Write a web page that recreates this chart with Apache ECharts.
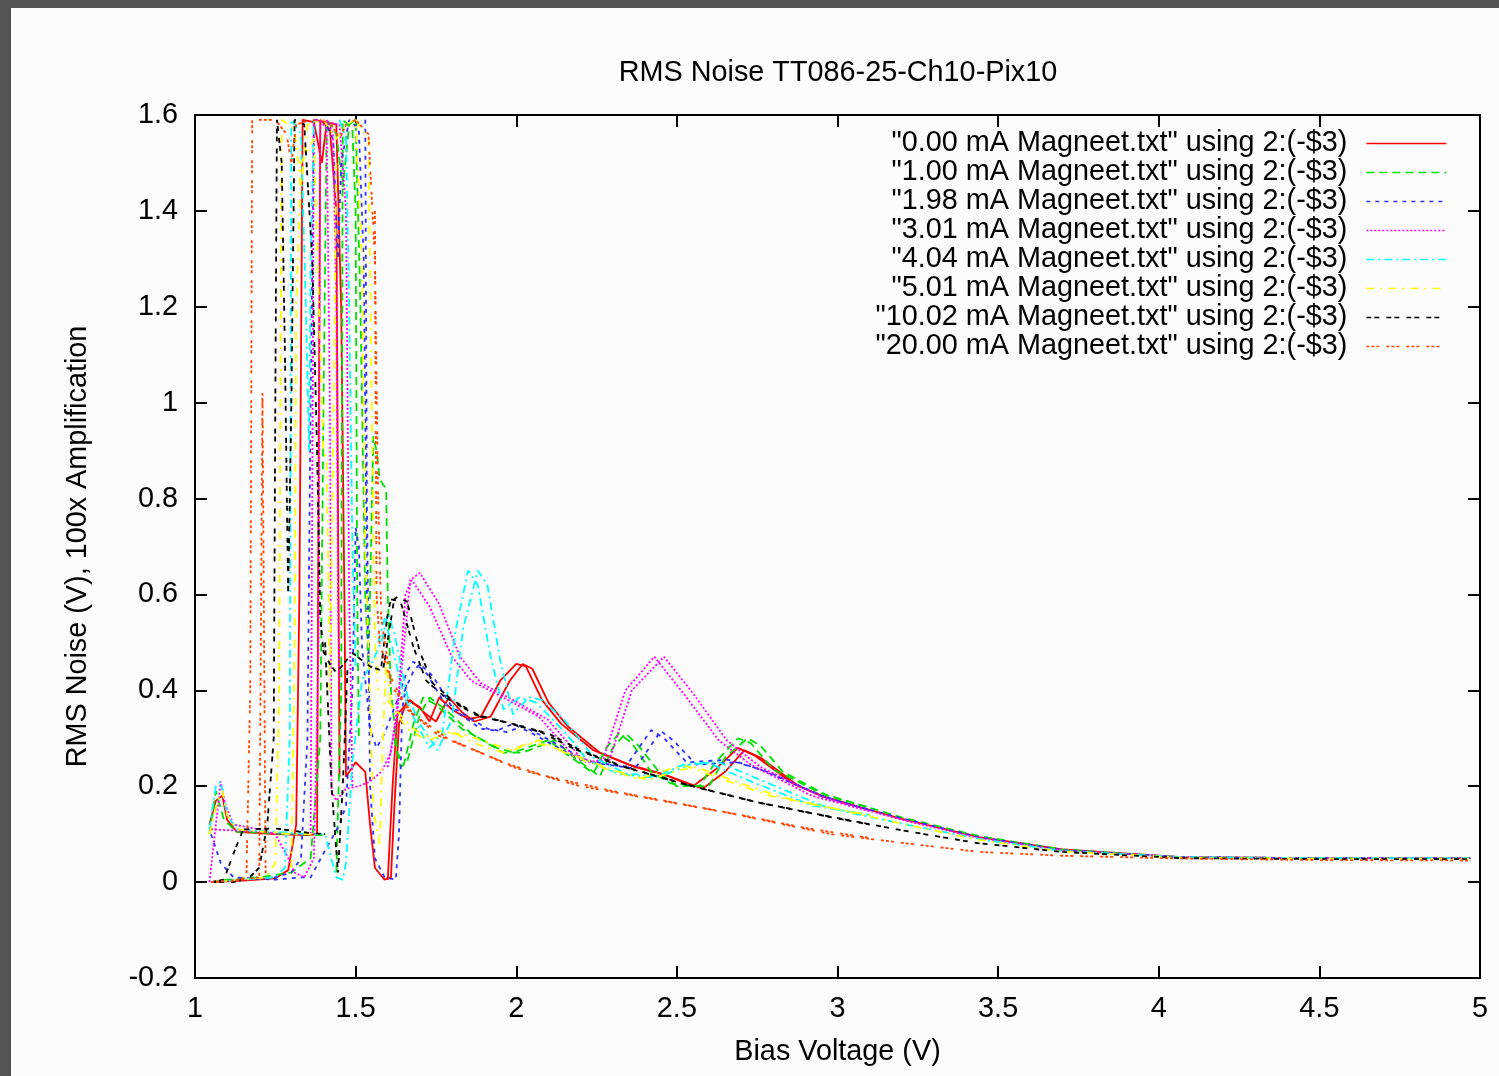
<!DOCTYPE html>
<html>
<head>
<meta charset="utf-8">
<title>RMS Noise TT086-25-Ch10-Pix10</title>
<script src="https://cdn.jsdelivr.net/npm/echarts@6/dist/echarts.min.js"></script>
<style>
  html, body { margin: 0; padding: 0; background: #545454; }
  #chart { position: absolute; left: 11px; top: 8px; width: 1488px; height: 1068px; background: #fcfcfc; }
</style>
</head>
<body>
<div id="chart"></div>
<script>
// magnet currents, one data file each
const currents = ['0.00', '1.00', '1.98', '3.01', '4.04', '5.01', '10.02', '20.00'];

// [bias voltage (V), rms noise (V)] per sweep
const mA000a = [[1.05,0.0],[1.15,0.003],[1.25,0.008],[1.29,0.025],[1.315,0.12],[1.325,0.6],[1.335,1.59],[1.37,1.585],[1.395,1.5],[1.41,1.585],[1.44,1.58],[1.455,1.2],[1.465,0.6],[1.47,0.22],[1.5,0.25],[1.53,0.23],[1.545,0.12],[1.56,0.03],[1.59,0.005],[1.61,0.01],[1.62,0.15],[1.635,0.33],[1.66,0.38],[1.7,0.365],[1.73,0.335],[1.76,0.385],[1.8,0.36],[1.85,0.34],[1.89,0.345],[1.95,0.42],[2.0,0.455],[2.03,0.45],[2.08,0.38],[2.14,0.33],[2.24,0.275],[2.35,0.245],[2.45,0.227],[2.55,0.2],[2.62,0.235],[2.69,0.28],[2.74,0.265],[2.86,0.206],[2.95,0.18],[3.05,0.16],[3.2,0.132],[3.44,0.094],[3.7,0.068],[4.07,0.052],[4.5,0.05],[4.97,0.05]];
const mA000b = [[1.045,0.12],[1.065,0.17],[1.085,0.18],[1.1,0.13],[1.13,0.105],[1.25,0.1],[1.35,0.098],[1.38,0.1],[1.385,0.9],[1.39,1.59],[1.42,1.57],[1.44,1.4],[1.445,0.8],[1.45,0.22]];
const mA000c = [[1.6,0.005],[1.615,0.2],[1.63,0.35],[1.67,0.38],[1.72,0.35],[1.75,0.335],[1.79,0.385],[1.83,0.355],[1.87,0.335],[1.92,0.345],[1.98,0.42],[2.02,0.455],[2.05,0.445],[2.1,0.375],[2.16,0.325],[2.26,0.27],[2.37,0.24],[2.47,0.222],[2.58,0.195],[2.65,0.23],[2.71,0.275],[2.76,0.26],[2.88,0.2],[2.97,0.175],[3.1,0.15]];

const mA100a = [[1.05,0.0],[1.1,0.005],[1.2,0.01],[1.3,0.02],[1.36,0.05],[1.39,0.3],[1.4,1.0],[1.41,1.59],[1.44,1.56],[1.46,1.45],[1.48,1.58],[1.5,1.59],[1.515,1.2],[1.53,0.6],[1.54,0.45],[1.548,0.7],[1.555,0.93],[1.565,0.9],[1.575,0.84],[1.595,0.82],[1.6,0.6],[1.61,0.4],[1.63,0.27],[1.65,0.245],[1.68,0.33],[1.71,0.385],[1.75,0.37],[1.83,0.32],[1.94,0.28],[1.99,0.27],[2.1,0.296],[2.15,0.27],[2.24,0.227],[2.28,0.28],[2.32,0.31],[2.36,0.29],[2.42,0.23],[2.48,0.206],[2.57,0.2],[2.62,0.25],[2.69,0.3],[2.73,0.29],[2.8,0.235],[2.95,0.185],[3.05,0.165],[3.2,0.135],[3.44,0.096],[3.7,0.068],[4.07,0.052],[4.5,0.05],[4.97,0.05]];
const mA100b = [[1.045,0.1],[1.065,0.19],[1.09,0.13],[1.13,0.105],[1.3,0.1],[1.405,0.098]];
const mA100c = [[1.62,0.3],[1.64,0.24],[1.66,0.25],[1.7,0.35],[1.73,0.385],[1.78,0.36],[1.86,0.31],[1.96,0.27],[2.02,0.27],[2.12,0.296],[2.18,0.26],[2.26,0.22],[2.3,0.28],[2.34,0.31],[2.38,0.285],[2.45,0.225],[2.5,0.2],[2.6,0.2],[2.65,0.26],[2.72,0.3],[2.76,0.285],[2.83,0.23],[2.97,0.18],[3.1,0.155]];
const mA100d = [[1.44,0.02],[1.455,0.4],[1.46,1.59],[1.49,1.57],[1.5,1.4],[1.505,0.6],[1.51,0.3]];

const mA198a = [[1.05,0.0],[1.15,0.005],[1.25,0.01],[1.3,0.02],[1.33,0.05],[1.35,0.3],[1.36,1.0],[1.37,1.59],[1.4,1.59],[1.43,1.55],[1.445,1.3],[1.455,1.5],[1.48,1.59],[1.51,1.57],[1.525,1.3],[1.53,1.0],[1.535,0.6],[1.545,0.32],[1.565,0.28],[1.59,0.31],[1.63,0.38],[1.66,0.44],[1.68,0.46],[1.72,0.436],[1.78,0.37],[1.89,0.32],[1.94,0.316],[1.99,0.33],[2.05,0.31],[2.13,0.28],[2.2,0.255],[2.34,0.24],[2.42,0.317],[2.46,0.3],[2.53,0.25],[2.66,0.255],[2.76,0.235],[2.95,0.18],[3.05,0.16],[3.2,0.133],[3.44,0.094],[3.7,0.067],[4.07,0.052],[4.5,0.05],[4.97,0.05]];
const mA198b = [[1.05,0.1],[1.08,0.04],[1.12,0.01],[1.25,0.005],[1.33,0.01],[1.36,0.01],[1.4,0.06],[1.45,0.12],[1.47,0.16],[1.49,0.4],[1.5,0.74],[1.51,0.7],[1.52,0.49],[1.545,0.32]];
const mA198c = [[1.53,1.59],[1.535,0.8],[1.545,0.2],[1.56,0.05],[1.59,0.01],[1.625,0.005],[1.635,0.1],[1.645,0.36],[1.66,0.42]];
const mA198d = [[1.64,0.38],[1.68,0.44],[1.7,0.455],[1.74,0.43],[1.8,0.365],[1.91,0.32],[1.97,0.313],[2.02,0.325],[2.08,0.305],[2.16,0.275],[2.23,0.25],[2.37,0.237],[2.45,0.315],[2.49,0.295],[2.56,0.245],[2.69,0.25],[2.79,0.228],[2.97,0.175],[3.1,0.15]];

const mA301a = [[1.045,0.0],[1.065,0.12],[1.08,0.21],[1.095,0.16],[1.12,0.12],[1.2,0.11],[1.25,0.1],[1.29,0.05],[1.31,0.02],[1.34,0.01],[1.37,0.05],[1.385,0.5],[1.39,1.59],[1.41,1.57],[1.42,1.0],[1.425,0.19],[1.44,0.17],[1.47,0.195],[1.51,0.2],[1.545,0.21],[1.58,0.23],[1.61,0.27],[1.64,0.42],[1.67,0.63],[1.7,0.645],[1.76,0.58],[1.825,0.47],[1.89,0.415],[1.99,0.38],[2.1,0.338],[2.2,0.26],[2.24,0.25],[2.29,0.255],[2.36,0.4],[2.46,0.47],[2.55,0.394],[2.655,0.296],[2.76,0.24],[2.95,0.178],[3.05,0.158],[3.2,0.13],[3.44,0.092],[3.7,0.066],[4.07,0.052],[4.5,0.05],[4.97,0.05]];
const mA301b = [[1.05,0.11],[1.2,0.105],[1.3,0.1],[1.36,0.1],[1.365,0.8],[1.37,1.59],[1.45,1.58],[1.47,1.4],[1.48,0.6],[1.49,0.2]];
const mA301c = [[1.6,0.24],[1.63,0.35],[1.655,0.6],[1.675,0.63],[1.73,0.575],[1.8,0.47],[1.86,0.42],[1.96,0.385],[2.07,0.345],[2.17,0.27],[2.22,0.25],[2.27,0.255],[2.34,0.4],[2.43,0.47],[2.52,0.394],[2.63,0.296],[2.73,0.245],[2.92,0.18],[3.1,0.148]];
const mA301d = [[1.41,1.59],[1.43,1.56],[1.44,1.2],[1.445,0.6],[1.45,0.4]];

const mA404a = [[1.045,0.11],[1.065,0.2],[1.08,0.21],[1.1,0.14],[1.13,0.11],[1.25,0.105],[1.35,0.1],[1.405,0.1],[1.42,0.06],[1.44,0.01],[1.46,0.005],[1.47,0.04],[1.49,0.25],[1.52,0.42],[1.545,0.45],[1.58,0.5],[1.6,0.56],[1.62,0.52],[1.66,0.39],[1.7,0.33],[1.755,0.275],[1.8,0.34],[1.835,0.53],[1.88,0.65],[1.91,0.62],[1.95,0.463],[1.99,0.35],[2.04,0.386],[2.08,0.38],[2.15,0.338],[2.2,0.296],[2.24,0.26],[2.34,0.227],[2.45,0.22],[2.55,0.248],[2.63,0.25],[2.76,0.213],[2.95,0.16],[3.05,0.143],[3.2,0.122],[3.44,0.09],[3.7,0.065],[4.07,0.052],[4.5,0.05],[4.97,0.05]];
const mA404b = [[1.05,0.0],[1.15,0.005],[1.25,0.01],[1.28,0.03],[1.295,0.3],[1.3,1.59],[1.33,1.56],[1.345,1.2],[1.355,0.9],[1.36,1.3],[1.37,1.59]];
const mA404c = [[1.57,0.5],[1.59,0.55],[1.61,0.5],[1.65,0.39],[1.69,0.33],[1.73,0.28],[1.77,0.31],[1.81,0.52],[1.85,0.65],[1.88,0.62],[1.92,0.47],[1.96,0.36],[2.01,0.385],[2.06,0.375],[2.12,0.335],[2.18,0.29],[2.22,0.255],[2.32,0.225],[2.43,0.218],[2.52,0.245],[2.6,0.248],[2.73,0.21],[2.92,0.16],[3.1,0.14]];
const mA404d = [[1.45,1.59],[1.47,1.55],[1.48,1.2],[1.49,0.7],[1.5,0.45]];

const mA501a = [[1.05,0.0],[1.15,0.005],[1.22,0.01],[1.25,0.04],[1.262,0.4],[1.27,1.59],[1.31,1.57],[1.33,1.45],[1.35,1.58],[1.4,1.59],[1.44,1.55],[1.47,1.58],[1.5,1.59],[1.52,1.3],[1.53,0.7],[1.555,0.15],[1.575,0.08],[1.585,0.3],[1.595,0.46],[1.61,0.37],[1.68,0.32],[1.73,0.296],[1.78,0.31],[1.83,0.31],[1.89,0.296],[1.99,0.275],[2.07,0.296],[2.12,0.28],[2.2,0.26],[2.3,0.234],[2.41,0.213],[2.51,0.234],[2.56,0.24],[2.67,0.213],[2.82,0.178],[2.98,0.155],[3.2,0.122],[3.44,0.088],[3.7,0.064],[4.07,0.051],[4.5,0.049],[4.97,0.049]];
const mA501b = [[1.045,0.1],[1.07,0.17],[1.085,0.19],[1.1,0.14],[1.13,0.11],[1.3,0.1],[1.405,0.1]];
const mA501c = [[1.6,0.38],[1.66,0.32],[1.71,0.3],[1.76,0.315],[1.81,0.31],[1.87,0.29],[1.96,0.27],[2.04,0.29],[2.1,0.285],[2.18,0.262],[2.28,0.236],[2.38,0.215],[2.48,0.236],[2.53,0.242],[2.64,0.215],[2.79,0.18],[2.96,0.157],[3.1,0.14]];
const mA501d = [[1.3,0.03],[1.31,0.5],[1.315,1.2],[1.33,1.5],[1.37,1.55],[1.4,0.9],[1.41,0.88],[1.42,0.4],[1.43,0.9],[1.44,1.5]];
const mA501e = [[1.5,1.59],[1.54,1.55],[1.55,1.0],[1.56,0.5],[1.57,0.4]];

const mA1002a = [[1.05,0.0],[1.12,0.0],[1.17,0.01],[1.2,0.03],[1.225,0.12],[1.245,0.3],[1.25,1.0],[1.255,1.59],[1.27,1.5],[1.28,1.1],[1.29,0.6],[1.3,1.0],[1.31,1.59],[1.34,1.58],[1.365,1.3],[1.38,0.9],[1.39,0.55],[1.4,0.48],[1.42,0.455],[1.44,0.436],[1.49,0.478],[1.545,0.45],[1.585,0.44],[1.62,0.59],[1.63,0.595],[1.66,0.585],[1.7,0.48],[1.74,0.415],[1.8,0.38],[1.89,0.345],[1.99,0.33],[2.1,0.31],[2.2,0.275],[2.34,0.24],[2.55,0.2],[2.76,0.165],[2.95,0.14],[3.2,0.108],[3.44,0.081],[3.7,0.063],[4.07,0.05],[4.5,0.048],[4.97,0.048]];
const mA1002b = [[1.05,0.0],[1.09,0.005],[1.12,0.06],[1.15,0.11],[1.25,0.112],[1.35,0.103],[1.405,0.1]];
const mA1002c = [[1.405,0.5],[1.425,0.2],[1.445,0.02],[1.46,0.2],[1.475,0.45]];
const mA1002d = [[1.58,0.45],[1.6,0.56],[1.61,0.59],[1.64,0.585],[1.68,0.49],[1.72,0.42],[1.78,0.385],[1.87,0.35],[1.97,0.333],[2.08,0.312],[2.18,0.278],[2.32,0.243],[2.53,0.203],[2.74,0.168],[2.93,0.142],[3.1,0.12]];

const mA2000a = [[1.05,0.0],[1.12,0.003],[1.16,0.01],[1.172,0.4],[1.178,1.59],[1.25,1.59],[1.285,1.56],[1.3,1.5],[1.315,1.58],[1.36,1.59],[1.42,1.585],[1.45,1.55],[1.47,1.58],[1.5,1.59],[1.54,1.56],[1.56,1.3],[1.57,0.8],[1.58,0.55],[1.6,0.46],[1.61,0.41],[1.68,0.35],[1.785,0.3],[1.89,0.27],[1.99,0.24],[2.04,0.23],[2.2,0.2],[2.45,0.17],[2.67,0.143],[2.82,0.122],[2.98,0.1],[3.2,0.082],[3.44,0.063],[3.7,0.055],[4.07,0.049],[4.5,0.046],[4.97,0.045]];
const mA2000b = [[1.05,0.0],[1.15,0.005],[1.2,0.01],[1.205,0.5],[1.21,1.02],[1.215,0.5],[1.22,0.01]];
const mA2000c = [[1.56,1.4],[1.565,0.6],[1.575,0.5],[1.6,0.44],[1.66,0.36],[1.76,0.305],[1.87,0.275],[1.98,0.245],[2.1,0.22],[2.3,0.19],[2.5,0.165],[2.7,0.14],[2.9,0.113],[3.1,0.092]];

const sweepsByCurrent = [
  [mA000a, mA000b, mA000c],
  [mA100a, mA100b, mA100c, mA100d],
  [mA198a, mA198b, mA198c, mA198d],
  [mA301a, mA301b, mA301c, mA301d],
  [mA404a, mA404b, mA404c, mA404d],
  [mA501a, mA501b, mA501c, mA501d, mA501e],
  [mA1002a, mA1002b, mA1002c, mA1002d],
  [mA2000a, mA2000b, mA2000c]
];

const colors = ['#ff0000', '#00e000', '#3030ff', '#ff00ff', '#00ffff', '#ffff00', '#000000', '#ff4500'];
const dashes = ['solid', [8, 5], [4, 5], [2, 2], [8, 4, 2, 4], [8, 6, 2, 6], [5, 3, 5, 7], [3, 2, 3, 2, 3, 7]];

const font = 'Liberation Sans, Arial, sans-serif';
const fontSize = 28.8;
const names = currents.map(c => '"' + c + ' mA Magneet.txt" using 2:(-$3)');

const series = [];
sweepsByCurrent.forEach((sweeps, i) => {
  sweeps.forEach(sweep => {
    series.push({
      name: names[i],
      type: 'line',
      data: sweep,
      showSymbol: false,
      symbol: 'none',
      clip: true,
      lineStyle: { color: colors[i], width: 1.8, type: dashes[i] },
      itemStyle: { color: colors[i] },
      emphasis: { disabled: true }
    });
  });
});

const chart = echarts.init(document.getElementById('chart'));
const axisCommon = {
  axisLine: { show: true, onZero: false, lineStyle: { color: '#000', width: 2 } },
  axisTick: { show: true, inside: true, length: 12, lineStyle: { color: '#000', width: 2 } },
  splitLine: { show: false }
};
chart.setOption({
  animation: false,
  backgroundColor: '#fcfcfc',
  title: {
    text: 'RMS Noise TT086-25-Ch10-Pix10',
    left: 822,
    top: 46,
    textAlign: 'center',
    textStyle: { fontFamily: font, fontSize: fontSize, fontWeight: 'normal', color: '#000' }
  },
  legend: {
    data: names,
    orient: 'vertical',
    align: 'right',
    right: 47,
    top: 116,
    itemWidth: 80,
    itemHeight: 14,
    itemGap: 0,
    selectedMode: false,
    itemStyle: { opacity: 0 },
    lineStyle: { width: 1.3 },
    textStyle: { fontFamily: font, fontSize: fontSize, color: '#000', lineHeight: 29, padding: [0, 14, 0, 0] }
  },
  grid: { left: 184, right: 19, top: 107, bottom: 98 },
  xAxis: [
    Object.assign({}, axisCommon, {
      type: 'value', min: 1, max: 5, interval: 0.5, position: 'bottom',
      name: 'Bias Voltage (V)', nameLocation: 'middle', nameGap: 60,
      nameTextStyle: { fontFamily: font, fontSize: fontSize, color: '#000' },
      axisLabel: { margin: 17, fontFamily: font, fontSize: fontSize, color: '#000' }
    }),
    Object.assign({}, axisCommon, {
      type: 'value', min: 1, max: 5, interval: 0.5, position: 'top',
      axisLabel: { show: false }
    })
  ],
  yAxis: [
    Object.assign({}, axisCommon, {
      type: 'value', min: -0.2, max: 1.6, interval: 0.2, position: 'left',
      name: 'RMS Noise (V), 100x Amplification', nameLocation: 'middle', nameGap: 102,
      nameTextStyle: { fontFamily: font, fontSize: fontSize, color: '#000' },
      axisLabel: { margin: 17, fontFamily: font, fontSize: fontSize, color: '#000' }
    }),
    Object.assign({}, axisCommon, {
      type: 'value', min: -0.2, max: 1.6, interval: 0.2, position: 'right',
      axisLabel: { show: false }
    })
  ],
  series: series
});
</script>
</body>
</html>
